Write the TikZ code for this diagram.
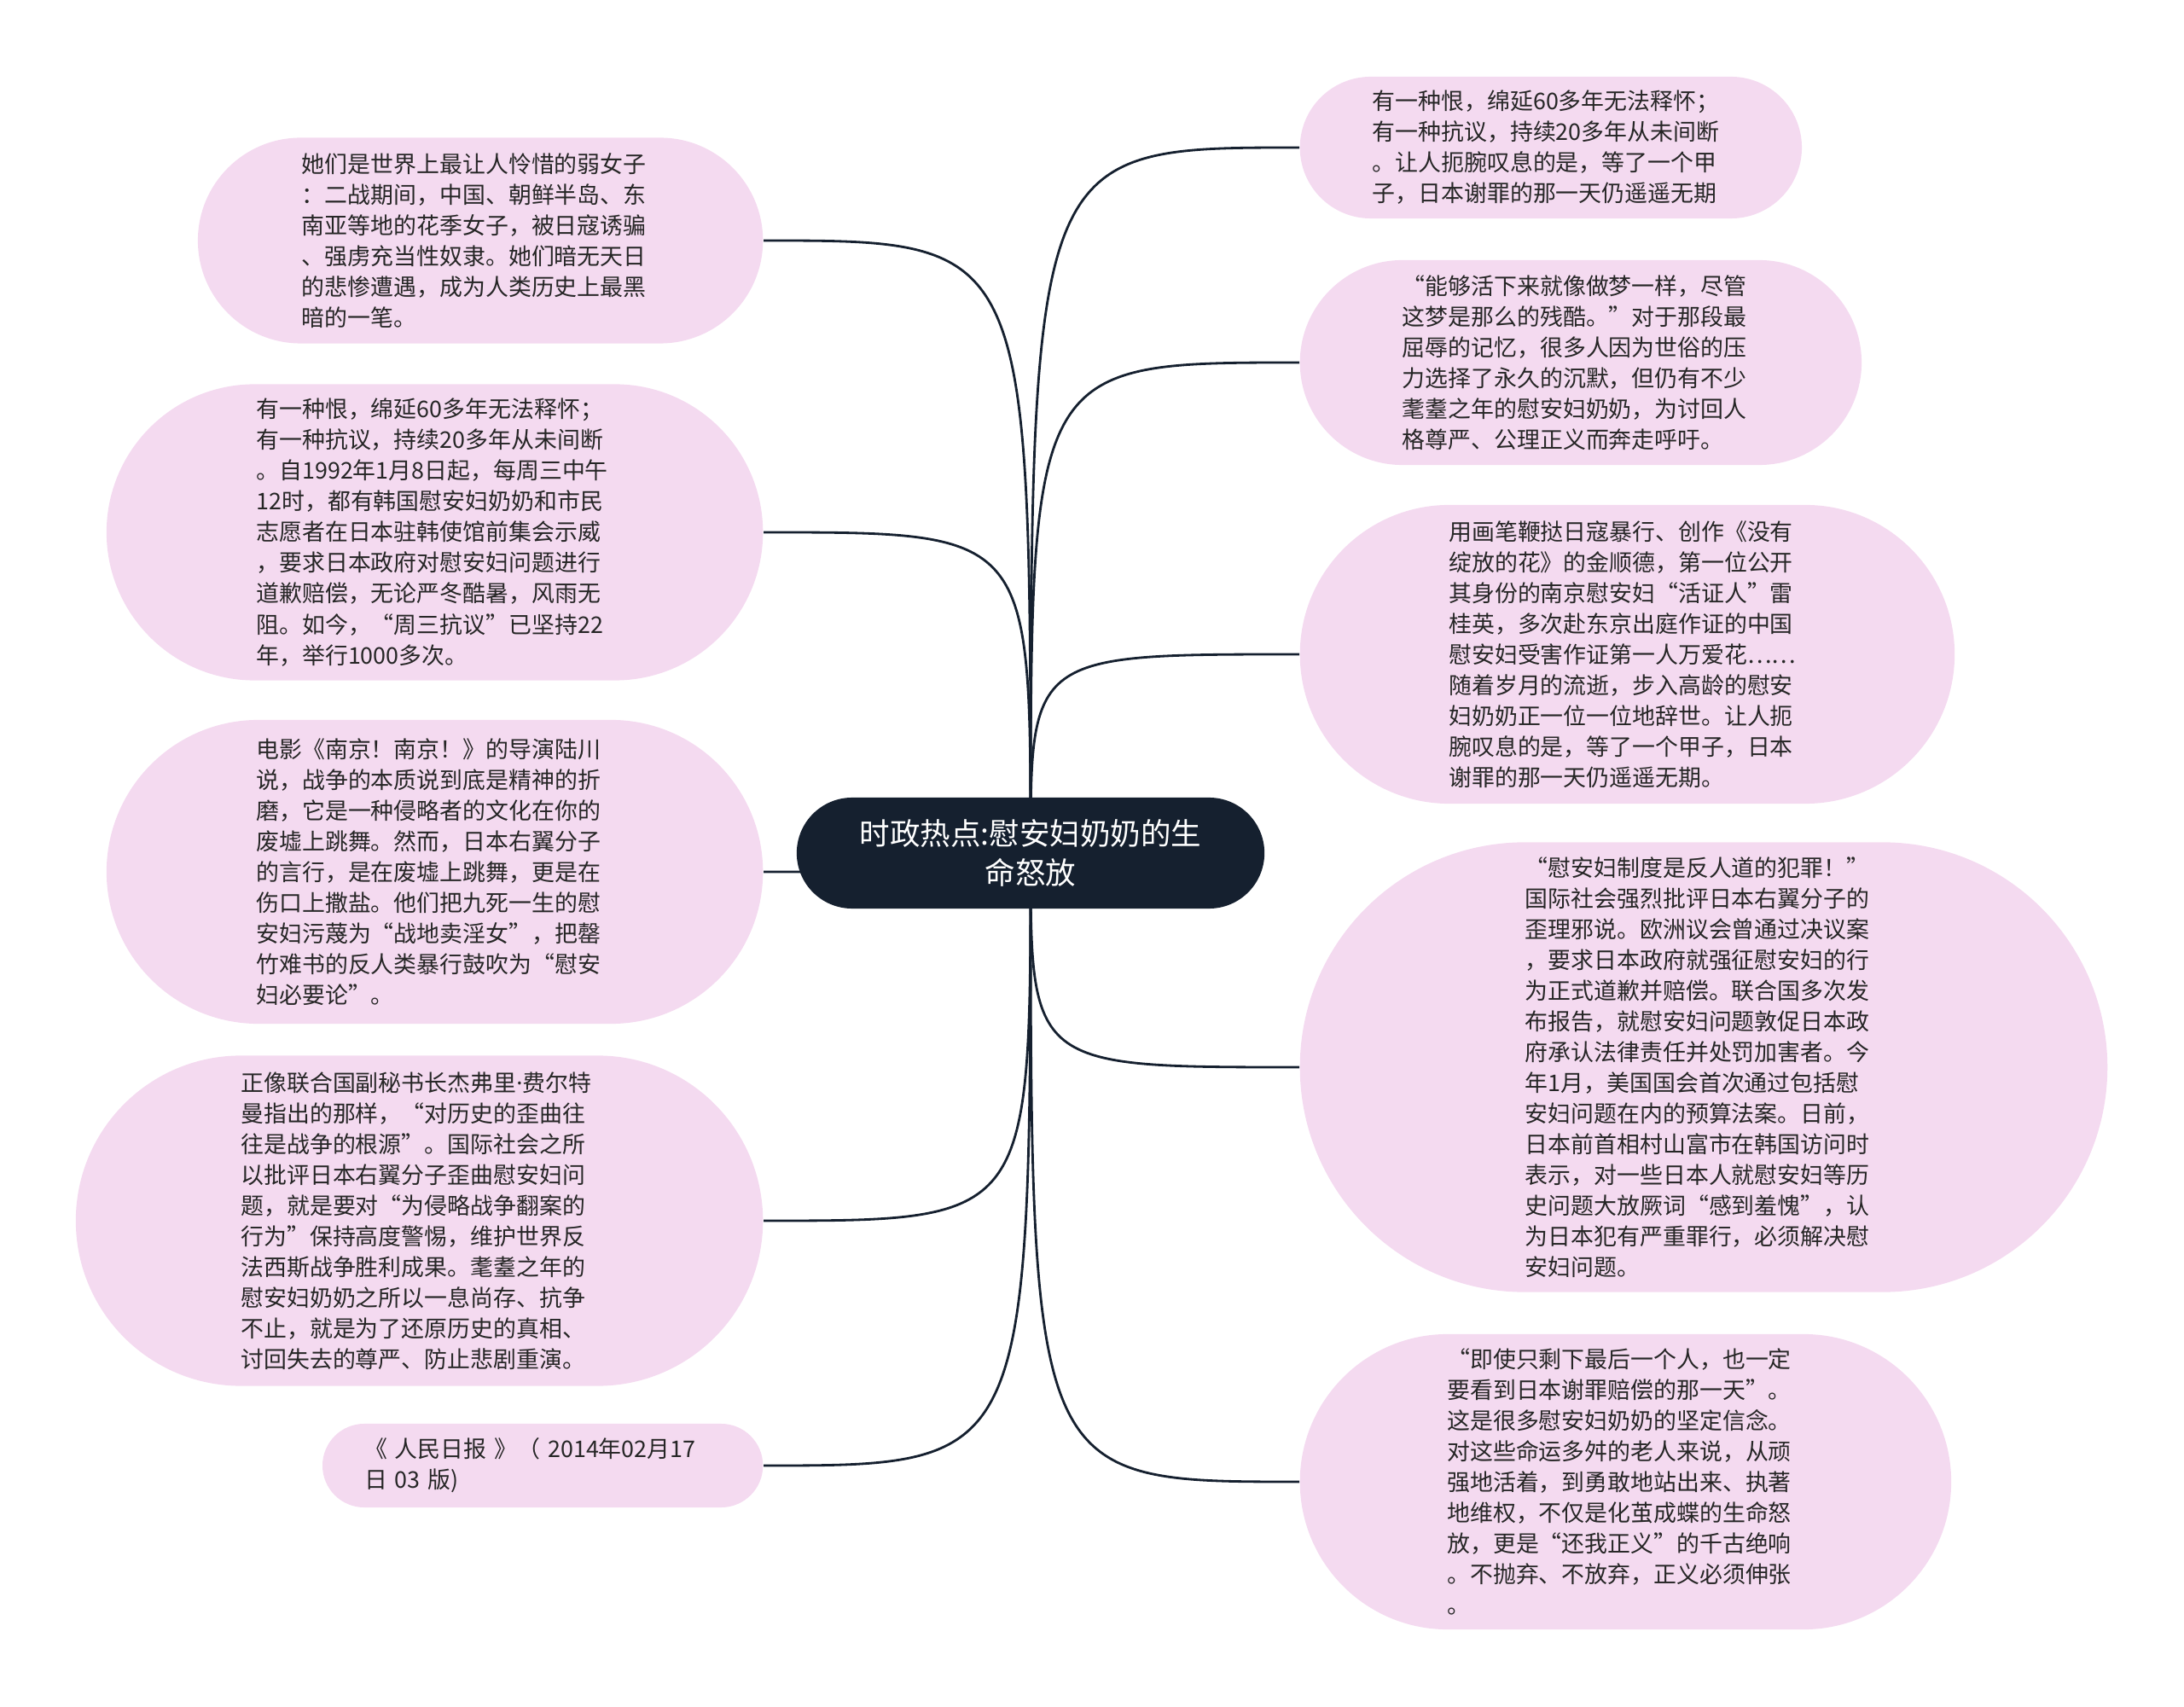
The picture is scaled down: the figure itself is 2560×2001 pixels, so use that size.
\documentclass[tikz,border=0pt]{standalone}
\usepackage{fontspec}
\setmainfont{Noto Sans CJK SC}
\newfontfamily\latinfont{Noto Sans}
\usepackage{tikz}
\usetikzlibrary{shapes.misc, backgrounds}
\definecolor{BranchPink}{RGB}{244,218,240}
\definecolor{RootNavy}{RGB}{21,32,47}
\definecolor{InkGray}{RGB}{38,38,38}

\begin{document}
\begin{tikzpicture}[x=0.01cm, y=-0.01cm,
	leaf/.style={rounded rectangle, fill=BranchPink, inner sep=0pt, text=InkGray,
		text width=4.18cm, align=left, font=\fontsize{7.65pt}{10.25pt}\selectfont},
	root/.style={rounded rectangle, fill=RootNavy, inner sep=0pt, text=white,
		align=center, font=\fontsize{10.1pt}{13pt}\selectfont},
	branch/.style={RootNavy, line width=0.8pt}]
	\useasboundingbox (0,0) rectangle (2560,2001);

	% nodo central
	\node[root, minimum width=5.48cm, minimum height=1.3cm] (root) at (1208,1000)
		{时政热点:慰安妇奶奶的生\\命怒放};

	% ramas izquierdas
	\node[leaf, minimum width=6.62cm, minimum height=2.41cm, anchor=east] (l1) at (895,282)
		{她们是世界上最让人怜惜的弱女子\\：二战期间，中国、朝鲜半岛、东\\南亚等地的花季女子，被日寇诱骗\\、强虏充当性奴隶。她们暗无天日\\的悲惨遭遇，成为人类历史上最黑\\暗的一笔。};
	\node[leaf, minimum width=7.69cm, minimum height=3.47cm, anchor=east] (l2) at (895,624)
		{有一种恨，绵延60多年无法释怀；\\有一种抗议，持续20多年从未间断\\。自1992年1月8日起，每周三中午\\12时，都有韩国慰安妇奶奶和市民\\志愿者在日本驻韩使馆前集会示威\\，要求日本政府对慰安妇问题进行\\道歉赔偿，无论严冬酷暑，风雨无\\阻。如今，“周三抗议”已坚持22\\年，举行1000多次。};
	\node[leaf, minimum width=7.69cm, minimum height=3.56cm, anchor=east] (l3) at (895,1022)
		{电影《南京！南京！》的导演陆川\\说，战争的本质说到底是精神的折\\磨，它是一种侵略者的文化在你的\\废墟上跳舞。然而，日本右翼分子\\的言行，是在废墟上跳舞，更是在\\伤口上撒盐。他们把九死一生的慰\\安妇污蔑为“战地卖淫女”，把罄\\竹难书的反人类暴行鼓吹为“慰安\\妇必要论”。};
	\node[leaf, minimum width=8.05cm, minimum height=3.87cm, anchor=east] (l4) at (895,1431)
		{正像联合国副秘书长杰弗里{\latinfont ·}费尔特\\曼指出的那样，“对历史的歪曲往\\往是战争的根源”。国际社会之所\\以批评日本右翼分子歪曲慰安妇问\\题，就是要对“为侵略战争翻案的\\行为”保持高度警惕，维护世界反\\法西斯战争胜利成果。耄耋之年的\\慰安妇奶奶之所以一息尚存、抗争\\不止，就是为了还原历史的真相、\\讨回失去的尊严、防止悲剧重演。};
	\node[leaf, minimum width=5.16cm, minimum height=0.98cm, anchor=east] (l5) at (895,1718)
		{《 人民日报 》（ 2014年02月17\\日 03 版)};

	% ramas derechas
	\node[leaf, minimum width=5.88cm, minimum height=1.66cm, anchor=west] (r1) at (1523,173)
		{有一种恨，绵延60多年无法释怀；\\有一种抗议，持续20多年从未间断\\。让人扼腕叹息的是，等了一个甲\\子，日本谢罪的那一天仍遥遥无期};
	\node[leaf, minimum width=6.58cm, minimum height=2.4cm, anchor=west] (r2) at (1523,425)
		{“能够活下来就像做梦一样，尽管\\这梦是那么的残酷。”对于那段最\\屈辱的记忆，很多人因为世俗的压\\力选择了永久的沉默，但仍有不少\\耄耋之年的慰安妇奶奶，为讨回人\\格尊严、公理正义而奔走呼吁。};
	\node[leaf, minimum width=7.67cm, minimum height=3.5cm, anchor=west] (r3) at (1523,767)
		{用画笔鞭挞日寇暴行、创作《没有\\绽放的花》的金顺德，第一位公开\\其身份的南京慰安妇“活证人”雷\\桂英，多次赴东京出庭作证的中国\\慰安妇受害作证第一人万爱花……\\随着岁月的流逝，步入高龄的慰安\\妇奶奶正一位一位地辞世。让人扼\\腕叹息的是，等了一个甲子，日本\\谢罪的那一天仍遥遥无期。};
	\node[leaf, minimum width=9.46cm, minimum height=5.27cm, anchor=west] (r4) at (1523,1251)
		{“慰安妇制度是反人道的犯罪！”\\国际社会强烈批评日本右翼分子的\\歪理邪说。欧洲议会曾通过决议案\\，要求日本政府就强征慰安妇的行\\为正式道歉并赔偿。联合国多次发\\布报告，就慰安妇问题敦促日本政\\府承认法律责任并处罚加害者。今\\年1月，美国国会首次通过包括慰\\安妇问题在内的预算法案。日前，\\日本前首相村山富市在韩国访问时\\表示，对一些日本人就慰安妇等历\\史问题大放厥词“感到羞愧”，认\\为日本犯有严重罪行，必须解决慰\\安妇问题。};
	\node[leaf, minimum width=7.63cm, minimum height=3.46cm, anchor=west] (r5) at (1523,1737)
		{“即使只剩下最后一个人，也一定\\要看到日本谢罪赔偿的那一天”。\\这是很多慰安妇奶奶的坚定信念。\\对这些命运多舛的老人来说，从顽\\强地活着，到勇敢地站出来、执著\\地维权，不仅是化茧成蝶的生命怒\\放，更是“还我正义”的千古绝响\\。不抛弃、不放弃，正义必须伸张\\。};

	% conectores
	\begin{scope}[on background layer]
		\foreach \n in {l1,l2,l3,l4,l5}
			\draw[branch] (root.center) .. controls (root.center |- \n.east) .. (\n.east);
		\foreach \n in {r1,r2,r3,r4,r5}
			\draw[branch] (root.center) .. controls (root.center |- \n.west) .. (\n.west);
	\end{scope}
\end{tikzpicture}
\end{document}
